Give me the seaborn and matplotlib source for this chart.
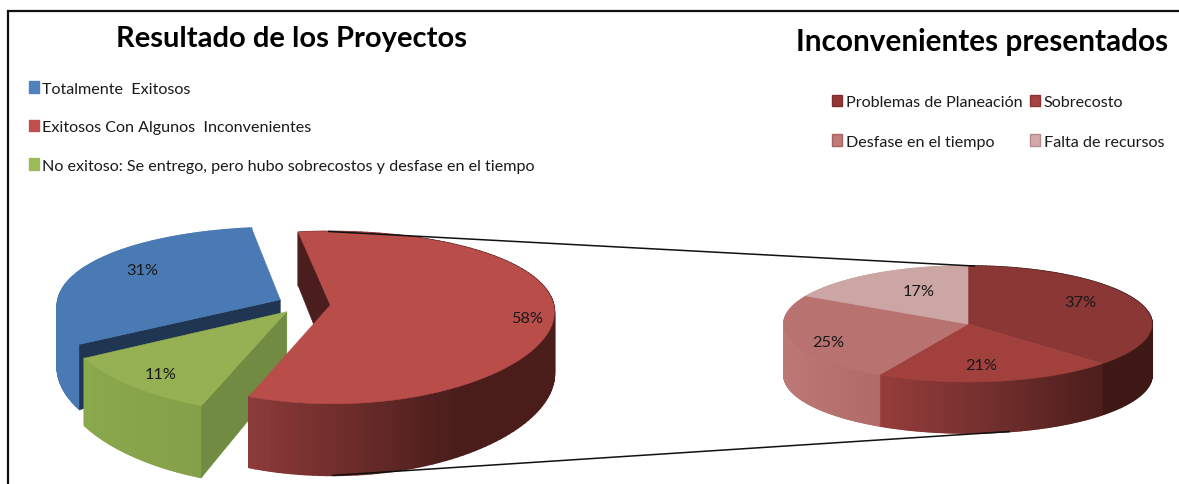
import numpy as np
import matplotlib
matplotlib.use("Agg")
import matplotlib.pyplot as plt
from matplotlib.patches import Patch, Polygon
from matplotlib.collections import PolyCollection
import seaborn as sns

# Chart data
result_labels = ["Totalmente  Exitosos", "Exitosos Con Algunos  Inconvenientes",
                 "No exitoso: Se entrego, pero hubo sobrecostos y desfase en el tiempo"]
result_values = [31, 58, 11]
issue_labels = ["Problemas de Planeación", "Sobrecosto", "Desfase en el tiempo", "Falta de recursos"]
issue_values = [37, 21, 25, 17]
result_title = "Resultado de los Proyectos"
issue_title = "Inconvenientes presentados"

# Styling
result_swatches = ["#4f81bd", "#c0504d", "#9bbb59"]
result_tops = ["#4a7ab4", "#b84d4a", "#95b153"]
result_walls = ["#1f3552", "#4a1e1c", "#718c42"]
result_sides = [["#4a7ab4", "#4a7ab4"],
                ["#8c3b39", "#6b2c2a", "#4a1d1b", "#4a1d1b"],
                ["#8aa84c", "#84a049"]]
issue_swatches = ["#953735", "#a64240", "#c17a78", "#d4abaa"]
issue_swatch_edges = ["#7c2d2b", "#8a3331", "#a56361", "#b58e8d"]
issue_tops = ["#8a3735", "#a2403e", "#b87270", "#cba6a4"]
issue_sides = [["#3d1815", "#3d1815"],
               ["#963d3b", "#722f2d", "#4a1d1b"],
               ["#bd7775", "#b06b69"],
               ["#cba6a4", "#cba6a4"]]

FONT = "Lato"
W, H = 1179, 485

sns.set_theme(style="white")
plt.rcParams["font.family"] = [FONT, "DejaVu Sans"]

fig = plt.figure(figsize=(W / 100, H / 100), dpi=100, facecolor="white")
ax = fig.add_axes([0, 0, 1, 1])
ax.set_xlim(0, W)
ax.set_ylim(H, 0)
ax.axis("off")


class TiltedPie:
    """Perspective projection of a flat disc extruded downwards."""

    def __init__(self, values, start, center, rx, ry, depth, persp=0.0, explode=0.0):
        self.cx, self.cy = center
        self.rx, self.ry, self.depth, self.k, self.e = rx, ry, depth, persp, explode
        ang = start + np.cumsum([0] + list(values)) * 3.6
        self.spans = list(zip(ang[:-1], ang[1:]))

    def _offset(self, i):
        if i is None:
            return 0.0, 0.0
        mid = np.radians(sum(self.spans[i]) / 2)
        return self.e * np.sin(mid), self.e * np.cos(mid)

    def project(self, u, v, lower=False):
        w = 1 + self.k * v
        x = self.cx + self.rx * u / (1 + 0.5 * self.k * v)
        y = self.cy - self.ry * v / w
        if lower:
            y = y + self.depth / w
        return x, y

    def rim(self, i, theta, lower=False):
        du, dv = self._offset(i)
        t = np.radians(theta)
        return self.project(np.sin(t) + du, np.cos(t) + dv, lower)

    def apex(self, i, lower=False):
        du, dv = self._offset(i)
        return self.project(du, dv, lower)

    def side(self, i, stops, z):
        a, b = self.spans[i]
        th = np.linspace(a, b, 121)
        xs = [self.rim(i, t)[0] for t in th]
        lo, hi = min(xs), max(xs)
        shades = sns.blend_palette(stops, n_colors=256)
        polys, cols = [], []
        for t0, t1 in zip(th[:-1], th[1:]):
            p = [self.rim(i, t0), self.rim(i, t1), self.rim(i, t1, True), self.rim(i, t0, True)]
            polys.append(p)
            f = ((p[0][0] + p[1][0]) / 2 - lo) / max(hi - lo, 1)
            cols.append(shades[int(np.clip(f, 0, 1) * 255)])
        ax.add_collection(PolyCollection(polys, facecolors=cols, edgecolors=cols,
                                         linewidths=1.2, zorder=z))

    def wall(self, i, theta, color, z):
        p = [self.apex(i), self.rim(i, theta), self.rim(i, theta, True), self.apex(i, True)]
        ax.add_patch(Polygon(p, closed=True, fc=color, ec=color, lw=0.5, zorder=z))

    def top(self, i, color, z):
        a, b = self.spans[i]
        p = [self.apex(i)] + [self.rim(i, t) for t in np.linspace(a, b, 121)]
        ax.add_patch(Polygon(p, closed=True, fc=color, ec=color, lw=0.4, zorder=z))


left = TiltedPie(result_values, 240, (304, 305), 223, 84, 61, persp=0.146, explode=0.119)
right = TiltedPie(issue_values, 0, (968, 325), 184, 58, 51)

# Connectors between the exploded slice and the breakdown pie
for (t_left, t_right) in [(0, 2), (180, 167)]:
    low = t_left == 180
    xa, ya = left.rim(1, t_left, low)
    xb, yb = right.rim(None, t_right, low)
    ax.plot([xa, xb], [ya, yb], color="#111111", lw=1.1, zorder=11)

# Main pie: blue behind, green next, red in front
left.side(0, result_sides[0], 2)
left.wall(0, left.spans[0][0], result_walls[0], 3)
left.top(0, result_tops[0], 4)
left.side(2, result_sides[2], 5)
left.wall(2, left.spans[2][0], result_walls[2], 6)
left.top(2, result_tops[2], 7)
left.side(1, result_sides[1], 8)
left.wall(1, left.spans[1][0], result_walls[1], 9)
left.top(1, result_tops[1], 10)

# Breakdown pie
for i in range(4):
    right.side(i, issue_sides[i], 2 + i * 0.1)
for i in range(4):
    right.top(i, issue_tops[i], 4 + i * 0.1)

# Data labels
label_font = dict(fontsize=11.8, color="#1a1a1a", ha="center", va="center", zorder=20)
for v, (x, y) in zip(result_values, [(142, 271), (527, 319), (161, 375)]):
    ax.text(x, y, f"{v}%", **label_font)
for v, (x, y) in zip(issue_values, [(1080, 303), (981, 366), (828, 343), (919, 292)]):
    ax.text(x, y, f"{v}%", **label_font)

# Titles
ax.text(292, 38.5, result_title, fontsize=21, fontweight="bold", color="black",
        ha="center", va="center", zorder=20)
ax.text(982, 41.5, issue_title, fontsize=21.4, fontweight="bold", color="black",
        ha="center", va="center", zorder=20)

# Legends
to_axes = ax.transData
h1 = [Patch(fc=c, ec=c) for c in result_swatches]
leg1 = ax.legend(h1, result_labels, loc="upper left", bbox_to_anchor=(29, 82),
                 bbox_transform=to_axes, frameon=False, fontsize=11.6, handlelength=0.62,
                 handleheight=0.75, handletextpad=0.2, labelspacing=1.5, borderpad=0,
                 borderaxespad=0, labelcolor="#1a1a1a")
ax.add_artist(leg1)
order = [0, 2, 1, 3]
h2 = [Patch(fc=issue_swatches[i], ec=issue_swatch_edges[i], lw=1) for i in order]
leg2 = ax.legend(h2, [issue_labels[i] for i in order], loc="upper left", bbox_to_anchor=(832, 95.5),
                 bbox_transform=to_axes, frameon=False, fontsize=11.6, ncols=2, handlelength=0.62,
                 handleheight=0.75, handletextpad=0.25, labelspacing=1.56, columnspacing=0.43,
                 borderpad=0, borderaxespad=0, labelcolor="#1a1a1a")

# Frame around the slide
ax.plot([8, 8, W], [H, 11.5, 11.5], color="#111111", lw=1.6, zorder=30, solid_joinstyle="miter")

fig.savefig("out.png", dpi=100)
